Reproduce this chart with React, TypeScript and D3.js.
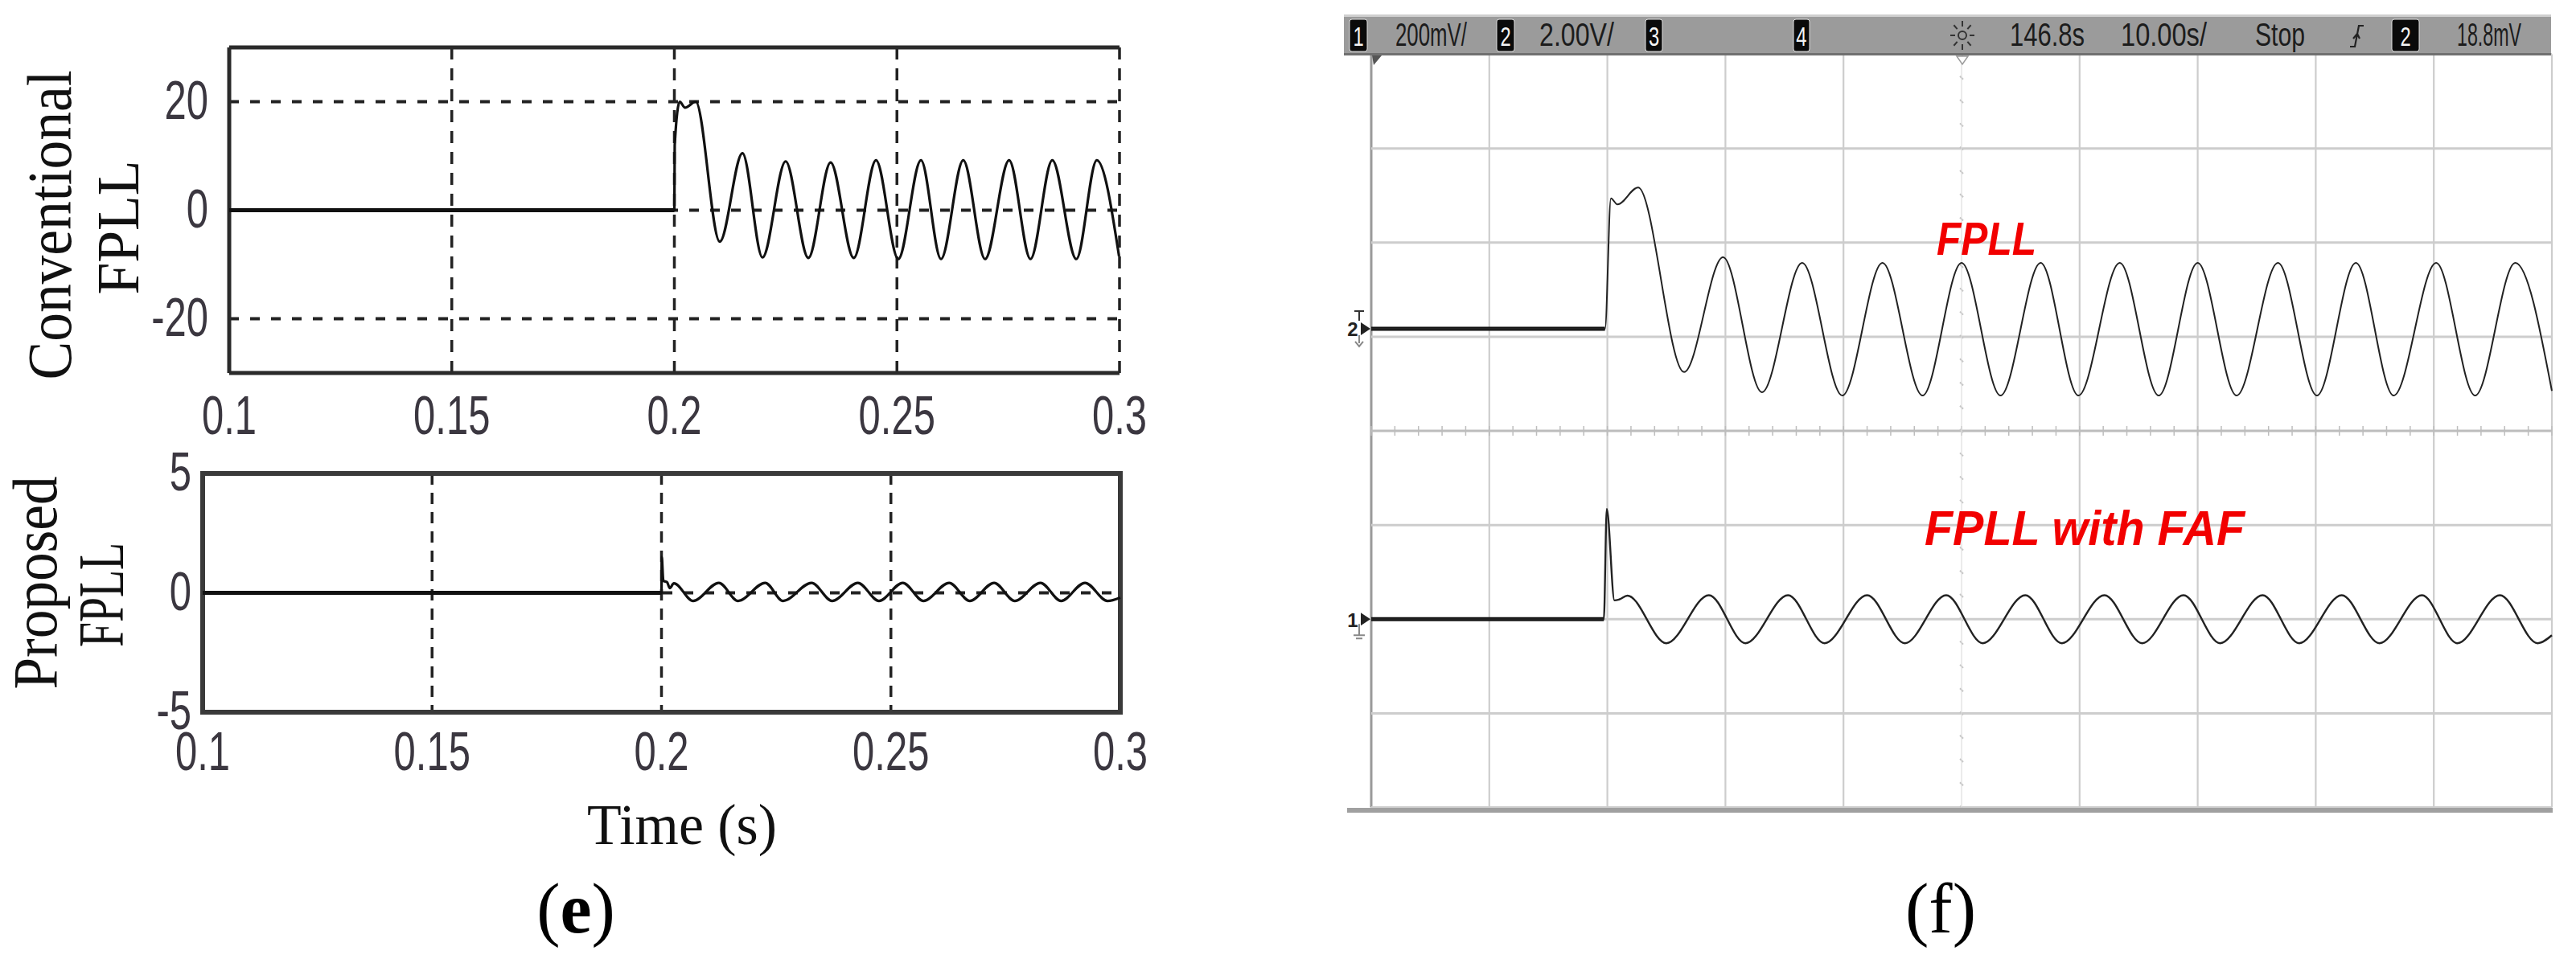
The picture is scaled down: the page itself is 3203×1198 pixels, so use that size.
import React from 'react';
import * as d3 from 'd3';

// ---- (e) simulation panels ----
const timeTicks = [0.1, 0.15, 0.2, 0.25, 0.3];
const topYTicks = [-20, 0, 20];
const bottomYTicks = [-5, 0, 5];

// [time s, value]
const conventionalFpll: [number, number][] = [
  [0.1, 0], [0.2, 0], [0.20008, 12], [0.2012, 20], [0.2024, 18.9], [0.2048, 20],
  [0.2102, -5.8], [0.2153, 10.5], [0.2198, -8.7], [0.225, 9.0], [0.2301, -8.8],
  [0.2351, 8.8], [0.2403, -8.8], [0.2453, 9.2], [0.2503, -9.0], [0.2554, 9.2],
  [0.2599, -9.0], [0.2649, 9.2], [0.2698, -9.0], [0.2752, 9.2], [0.28, -9.0],
  [0.2849, 9.2], [0.2903, -9.0], [0.2949, 9.2], [0.2999, -8.5],
];

const proposedFpll: [number, number][] = [
  [0.1, 0], [0.2, 0], [0.20005, 1.5], [0.2004, 0.5], [0.2012, 0.45], [0.2018, 0.2],
  [0.2027, 0.4], [0.2069, -0.34], [0.2125, 0.42], [0.2167, -0.34], [0.2226, 0.42],
  [0.2265, -0.34], [0.2327, 0.42], [0.2372, -0.34], [0.2428, 0.42], [0.2474, -0.34],
  [0.2526, 0.42], [0.2571, -0.34], [0.2627, 0.42], [0.2672, -0.34], [0.2725, 0.42],
  [0.277, -0.34], [0.2826, 0.42], [0.2871, -0.34], [0.2923, 0.42], [0.2972, -0.34],
  [0.3, -0.2],
];

// ---- (f) oscilloscope ----
const scopeTimeDivs = d3.range(0, 101, 10); // s, 10.00 s/div
const scopeVDivs = d3.range(-4, 5, 1);
const ch2Ground = 1.085; // div
const ch1Ground = -2.0;

// [time s, divisions from channel ground]
const fpllTrace: [number, number][] = [
  [0, 0], [19.8, 0], [20.3, 1.385], [20.85, 1.32], [22.6, 1.5], [26.5, -0.46],
  [29.8, 0.76], [33.1, -0.675], [36.5, 0.7], [39.9, -0.71], [43.3, 0.7], [46.7, -0.71],
  [50.0, 0.7], [53.3, -0.71], [56.7, 0.7], [59.9, -0.71], [63.4, 0.7], [66.7, -0.71],
  [70.0, 0.7], [73.3, -0.71], [76.8, 0.7], [80.1, -0.71], [83.4, 0.7], [86.6, -0.71],
  [90.2, 0.7], [93.5, -0.71], [96.9, 0.7], [100, -0.66],
];

const fafTrace: [number, number][] = [
  [0, 0], [19.7, 0], [19.95, 1.17], [20.6, 0.2], [21.0, 0.21], [21.7, 0.25],
  [25.0, -0.255], [28.6, 0.255], [31.7, -0.255], [35.3, 0.255], [38.4, -0.255],
  [42.0, 0.255], [45.2, -0.255], [48.7, 0.255], [51.8, -0.255], [55.4, 0.255],
  [58.5, -0.255], [62.1, 0.255], [65.3, -0.255], [68.8, 0.255], [71.9, -0.255],
  [75.5, 0.255], [78.6, -0.255], [82.2, 0.255], [85.4, -0.255], [89.0, 0.255],
  [92.0, -0.255], [95.6, 0.255], [98.8, -0.255], [100, -0.17],
];

const headerTexts = ['200mV/', '2.00V/', '146.8s', '10.00s/', 'Stop', '18.8mV'];
const headerChannels = ['1', '2', '3', '4', '2'];

// layout for header (px)
const headerTextPos = [[1735, 89], [1914, 93], [2499, 93], [2637, 107], [2804, 62], [3055, 80]];
const headerChanPos = [[1678, 22], [1861, 22], [2046, 21], [2230, 20], [2974, 34]];

const leadingFlat = (d: [number, number][]) => {
  const i = d.findIndex((p) => p[1] !== 0);
  return d.slice(0, i);
};

const Cond = ({ x, y, anchor = 'middle', size = 68, sx = 0.72, fill = '#3b3740', children }: any) => (
  <text
    transform={`translate(${x},${y}) scale(${sx},1)`}
    textAnchor={anchor}
    fontFamily="'Liberation Sans', Arial, sans-serif"
    fontSize={size}
    fill={fill}
  >
    {children}
  </text>
);

const serif = "'Liberation Serif', 'Times New Roman', serif";

export default function App() {
  // top panel scales
  const xTop = d3.scaleLinear().domain([0.1, 0.3]).range([285, 1392]);
  const yTop = d3.scaleLinear().domain([-30, 30]).range([464, 59]);
  // bottom panel scales
  const xBot = d3.scaleLinear().domain([0.1, 0.3]).range([252, 1393]);
  const yBot = d3.scaleLinear().domain([-5, 5]).range([886, 589]);
  // scope scales
  const xs = d3.scaleLinear().domain([0, 100]).range([1705, 3173]);
  const ys = d3.scaleLinear().domain([-4, 4]).range([1004.6, 67.5]);

  const lineTop = d3.line<[number, number]>().x((d) => xTop(d[0])).y((d) => yTop(d[1])).curve(d3.curveMonotoneX);
  const lineBot = d3.line<[number, number]>().x((d) => xBot(d[0])).y((d) => yBot(d[1])).curve(d3.curveMonotoneX);
  const scopeLine = (g: number) =>
    d3.line<[number, number]>().x((d) => xs(d[0])).y((d) => ys(d[1] + g)).curve(d3.curveMonotoneX);

  const [t0, t1] = xTop.domain();
  const [b0, b1] = xBot.domain();

  const minorX = d3.range(0, 100.01, 2);
  const minorY = d3.range(-4, 4.01, 0.25);

  return (
    <svg width={3203} height={1198} style={{ position: 'absolute', left: 0, top: 0, background: '#fff' }}>
      <rect x={0} y={0} width={3203} height={1198} fill="#fff" />

      {/* ===== top panel: Conventional FPLL ===== */}
      <g>
        {timeTicks.slice(1).map((t) => (
          <line key={t} x1={xTop(t)} x2={xTop(t)} y1={yTop(30)} y2={yTop(-30)}
            stroke="#222" strokeWidth={3.5} strokeDasharray="15 11" />
        ))}
        {topYTicks.map((v) => (
          <line key={v} x1={xTop(t0)} x2={xTop(t1)} y1={yTop(v)} y2={yTop(v)}
            stroke="#222" strokeWidth={4} strokeDasharray="12 14" />
        ))}
        <line x1={xTop(t0)} x2={xTop(t1)} y1={yTop(30)} y2={yTop(30)} stroke="#2a2a2a" strokeWidth={5} />
        <line x1={xTop(t0)} x2={xTop(t1)} y1={yTop(-30)} y2={yTop(-30)} stroke="#2a2a2a" strokeWidth={5} />
        <line x1={xTop(t0)} x2={xTop(t0)} y1={yTop(30)} y2={yTop(-30)} stroke="#2a2a2a" strokeWidth={5} />
        <path d={lineTop(leadingFlat(conventionalFpll)) || ''} fill="none" stroke="#111" strokeWidth={5} />
        <path d={lineTop(conventionalFpll) || ''} fill="none" stroke="#111" strokeWidth={3.2} />
        {topYTicks.map((v) => (
          <Cond key={v} x={259} y={yTop(v) + 21} anchor="end">{v}</Cond>
        ))}
        {timeTicks.map((t) => (
          <Cond key={t} x={xTop(t)} y={540}>{t}</Cond>
        ))}
        <text transform="translate(88,280) rotate(-90)" textAnchor="middle" fontFamily={serif}
          fontSize={78} textLength={385} lengthAdjust="spacingAndGlyphs" fill="#111">Conventional</text>
        <text transform="translate(172,283) rotate(-90)" textAnchor="middle" fontFamily={serif}
          fontSize={74} textLength={167} lengthAdjust="spacingAndGlyphs" fill="#111">FPLL</text>
      </g>

      {/* ===== bottom panel: Proposed FPLL ===== */}
      <g>
        {timeTicks.slice(1, 4).map((t) => (
          <line key={t} x1={xBot(t)} x2={xBot(t)} y1={yBot(5)} y2={yBot(-5)}
            stroke="#222" strokeWidth={3.5} strokeDasharray="14 10" />
        ))}
        <line x1={xBot(b0)} x2={xBot(b1)} y1={yBot(0)} y2={yBot(0)}
          stroke="#222" strokeWidth={4} strokeDasharray="12 14" />
        <rect x={xBot(b0)} y={yBot(5)} width={xBot(b1) - xBot(b0)} height={yBot(-5) - yBot(5)}
          fill="none" stroke="#3a3a3a" strokeWidth={6} />
        <path d={lineBot(leadingFlat(proposedFpll)) || ''} fill="none" stroke="#111" strokeWidth={5} />
        <path d={lineBot(proposedFpll) || ''} fill="none" stroke="#111" strokeWidth={3.2} />
        {bottomYTicks.map((v) => (
          <Cond key={v} x={238} y={yBot(v) + 21} anchor="end">{v}</Cond>
        ))}
        {timeTicks.map((t) => (
          <Cond key={t} x={xBot(t)} y={958}>{t}</Cond>
        ))}
        <text transform="translate(70,725) rotate(-90)" textAnchor="middle" fontFamily={serif}
          fontSize={78} textLength={265} lengthAdjust="spacingAndGlyphs" fill="#111">Proposed</text>
        <text transform="translate(153,740) rotate(-90)" textAnchor="middle" fontFamily={serif}
          fontSize={80} textLength={130} lengthAdjust="spacingAndGlyphs" fill="#111">FPLL</text>
        <text x={848} y={1050} textAnchor="middle" fontFamily={serif} fontSize={72}
          textLength={236} lengthAdjust="spacingAndGlyphs" fill="#111">Time (s)</text>
      </g>

      {/* ===== oscilloscope ===== */}
      <g>
        {scopeTimeDivs.map((t) => t !== 50 && (
          <line key={t} x1={xs(t)} x2={xs(t)} y1={ys(4)} y2={ys(-4)}
            stroke={t === 0 ? '#9a9a9a' : '#cdcdcd'} strokeWidth={t === 0 ? 3 : 2.2} />
        ))}
        {scopeVDivs.map((v) => (
          <line key={v} x1={xs(0)} x2={xs(100)} y1={ys(v)} y2={ys(v)}
            stroke={v === 0 ? '#bdbdbd' : '#cdcdcd'} strokeWidth={3} />
        ))}
        {minorX.map((t) => (
          <line key={t} x1={xs(t)} x2={xs(t)} y1={ys(0) - 6} y2={ys(0) + 6} stroke="#bdbdbd" strokeWidth={1.5} />
        ))}
        {minorY.map((v) => (
          <line key={v} x1={xs(50) - 2} x2={xs(50) + 2} y1={ys(v) - 2} y2={ys(v) + 2} stroke="#c4c4c4" strokeWidth={2} />
        ))}
        <line x1={xs(50)} x2={xs(50)} y1={ys(4)} y2={ys(-4)} stroke="#dedede" strokeWidth={1.2} />
        <line x1={1675} x2={3174} y1={1008} y2={1008} stroke="#a0a0a0" strokeWidth={6} />

        {/* traces */}
        <path d={scopeLine(ch2Ground)(leadingFlat(fpllTrace)) || ''} fill="none" stroke="#111" strokeWidth={5} />
        <path d={scopeLine(ch2Ground)(fpllTrace) || ''} fill="none" stroke="#222" strokeWidth={2} />
        <path d={scopeLine(ch1Ground)(leadingFlat(fafTrace)) || ''} fill="none" stroke="#111" strokeWidth={5} />
        <path d={scopeLine(ch1Ground)(fafTrace) || ''} fill="none" stroke="#222" strokeWidth={2.4} />

        {/* ground markers */}
        <g fill="#222">
          <path d={`M1692,${ys(ch2Ground) - 8} L1704,${ys(ch2Ground)} L1692,${ys(ch2Ground) + 8} Z`} />
          <text x={1682} y={ys(ch2Ground) + 9} textAnchor="middle" fontFamily="'Liberation Sans', sans-serif"
            fontSize={24} fontWeight="bold">2</text>
          <path d={`M1684,${ys(ch2Ground) - 22} h12 M1690,${ys(ch2Ground) - 22} v12`} stroke="#333" strokeWidth={2} />
          <path d={`M1690,${ys(ch2Ground) + 8} v10 M1685,${ys(ch2Ground) + 16} l5,6 l5,-6`} stroke="#888" strokeWidth={2} fill="none" />
          <path d={`M1692,${ys(ch1Ground) - 8} L1704,${ys(ch1Ground)} L1692,${ys(ch1Ground) + 8} Z`} />
          <text x={1682} y={ys(ch1Ground) + 10} textAnchor="middle" fontFamily="'Liberation Sans', sans-serif"
            fontSize={24} fontWeight="bold">1</text>
          <path d={`M1690,${ys(ch1Ground) + 6} v14 M1683,${ys(ch1Ground) + 20} h14 M1686,${ys(ch1Ground) + 24} h8`}
            stroke="#888" strokeWidth={2} fill="none" />
        </g>

        {/* header bar */}
        <rect x={1671} y={18} width={1501} height={3} fill="#cfcfcf" />
        <rect x={1671} y={21} width={1501} height={47} fill="#9b9b9b" />
        <rect x={1671} y={66} width={1501} height={3} fill="#707070" />
        {headerChannels.map((c, i) => (
          <g key={i}>
            <rect x={headerChanPos[i][0]} y={24} width={headerChanPos[i][1]} height={40} rx={3} fill="#0a0a0a"
              stroke="#e0e0e0" strokeWidth={1} />
            <text x={headerChanPos[i][0] + headerChanPos[i][1] / 2} y={57} textAnchor="middle"
              fontFamily="'Liberation Sans', sans-serif" fontSize={34} fill="#f4f4f4"
              transform={`translate(${(headerChanPos[i][0] + headerChanPos[i][1] / 2) * 0.3},0) scale(0.7,1)`}>{c}</text>
          </g>
        ))}
        {headerTexts.map((s, i) => (
          <text key={s} x={headerTextPos[i][0]} y={57} fontFamily="'Liberation Sans', sans-serif" fontSize={40}
            fill="#1c1c1c" textLength={headerTextPos[i][1]} lengthAdjust="spacingAndGlyphs">{s}</text>
        ))}
        {/* trigger icon */}
        <g stroke="#333" strokeWidth={2}>
          <circle cx={2440} cy={44} r={5} fill="none" />
          {d3.range(8).map((k) => {
            const a = (k * Math.PI) / 4;
            return <line key={k} x1={2440 + Math.cos(a) * 9} y1={44 + Math.sin(a) * 11}
              x2={2440 + Math.cos(a) * 15} y2={44 + Math.sin(a) * 18} />;
          })}
        </g>
        <path d="M2922,58 h6 l5,-26 h6 M2926,48 l5,-6 l3,6" stroke="#222" strokeWidth={2.2} fill="none" />
        <path d="M2433,70 L2447,70 L2440,80 Z" fill="#fff" stroke="#9a9a9a" strokeWidth={1.5} />
        <path d="M1706,69 L1718,69 L1708,81 Z" fill="#555" />

        {/* red annotations */}
        <text x={2470} y={317} textAnchor="middle" fontFamily="'Liberation Sans', Arial, sans-serif"
          fontWeight="bold" fontStyle="italic" fontSize={58} fill="#f20000"
          textLength={124} lengthAdjust="spacingAndGlyphs">FPLL</text>
        <text x={2393} y={678} fontFamily="'Liberation Sans', Arial, sans-serif"
          fontWeight="bold" fontStyle="italic" fontSize={62} fill="#f20000"
          textLength={398} lengthAdjust="spacingAndGlyphs">FPLL with FAF</text>
      </g>

      {/* sub-figure labels */}
      <text x={716} y={1160} textAnchor="middle" fontFamily={serif} fontSize={88} fill="#000">
        (<tspan fontWeight="bold">e</tspan>)
      </text>
      <text x={2413} y={1160} textAnchor="middle" fontFamily={serif} fontSize={88} fill="#000">(f)</text>
    </svg>
  );
}
